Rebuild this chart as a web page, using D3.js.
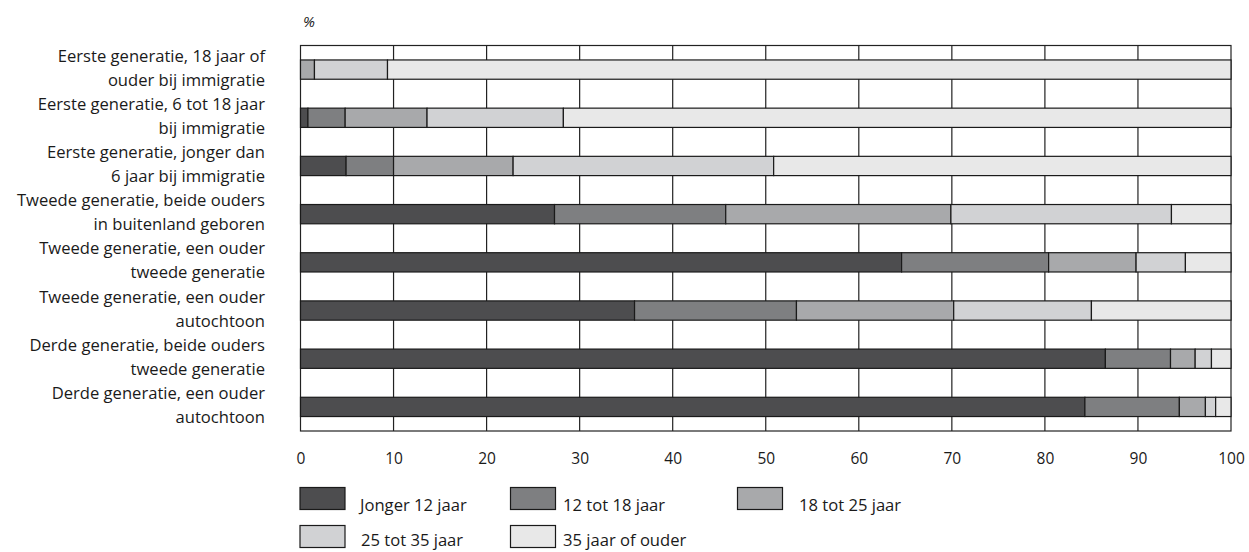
<!DOCTYPE html>
<html>
<head>
<meta charset="utf-8">
<script src="https://cdn.jsdelivr.net/npm/d3@7"></script>
<style>
  html, body { margin: 0; padding: 0; background: #fff; }
  svg { display: block; }
  text { font-family: "Open Sans", "Noto Sans", sans-serif; fill: #1a1a1a; }
</style>
</head>
<body>
<svg id="chart" width="1249" height="552"></svg>
<script>
// ---- data ----
const categories = [
  ["Eerste generatie, 18 jaar of", "ouder bij immigratie"],
  ["Eerste generatie, 6 tot 18 jaar", "bij immigratie"],
  ["Eerste generatie, jonger dan", "6 jaar bij immigratie"],
  ["Tweede generatie, beide ouders", "in buitenland geboren"],
  ["Tweede generatie, een ouder", "tweede generatie"],
  ["Tweede generatie, een ouder", "autochtoon"],
  ["Derde generatie, beide ouders", "tweede generatie"],
  ["Derde generatie, een ouder", "autochtoon"]
];
const seriesNames = ["Jonger 12 jaar", "12 tot 18 jaar", "18 tot 25 jaar", "25 tot 35 jaar", "35 jaar of ouder"];
const jonger12   = [0.0, 0.8, 4.9, 27.3, 64.6, 35.9, 86.5, 84.3];
const tot18      = [0.0, 4.0, 5.1, 18.4, 15.8, 17.4, 7.0, 10.15];
const tot25      = [1.5, 8.8, 12.85, 24.2, 9.4, 16.9, 2.65, 2.8];
const tot35      = [7.85, 14.65, 28.0, 23.7, 5.3, 14.8, 1.75, 1.1];
const ouder35    = [90.65, 71.75, 49.15, 6.4, 4.9, 15.0, 2.1, 1.65];
const xTicks = [0, 10, 20, 30, 40, 50, 60, 70, 80, 90, 100];
const colors = ["#4d4d4f", "#7e7f81", "#a8a9ab", "#d1d2d4", "#e8e8e8"];

// ---- layout ----
const svg = d3.select("#chart");
const pLeft = 300.5, pRight = 1231, pTop = 45.5, pBottom = 431;
const labelSize = 16.6, tickSize = 15.5;

const seriesValues = [jonger12, tot18, tot25, tot35, ouder35];
const rows = categories.map((c, i) => {
  const r = { idx: i };
  seriesNames.forEach((s, k) => r[s] = seriesValues[k][i]);
  return r;
});
const stacked = d3.stack().keys(seriesNames)(rows);

const x = d3.scaleLinear().domain([0, 100]).range([pLeft, pRight]);
const y = d3.scaleBand().domain(d3.range(categories.length)).range([pTop, pBottom])
  .paddingInner(0.6).paddingOuter(0.3);
const color = d3.scaleOrdinal().domain(seriesNames).range(colors);

// plot frame
svg.append("rect")
  .attr("x", pLeft).attr("y", pTop)
  .attr("width", pRight - pLeft).attr("height", pBottom - pTop)
  .attr("fill", "none").attr("stroke", "#222").attr("stroke-width", 1.2);

// vertical grid
svg.append("g").selectAll("line").data(xTicks.slice(1, -1)).join("line")
  .attr("x1", d => x(d)).attr("x2", d => x(d))
  .attr("y1", pTop).attr("y2", pBottom)
  .attr("stroke", "#222").attr("stroke-width", 1.2);

// bars
svg.append("g").selectAll("g").data(stacked).join("g")
  .attr("fill", d => color(d.key))
  .selectAll("rect").data(d => d.filter(p => p[1] - p[0] > 0)).join("rect")
  .attr("x", d => x(d[0]))
  .attr("y", d => y(d.data.idx))
  .attr("width", d => x(d[1]) - x(d[0]))
  .attr("height", y.bandwidth())
  .attr("stroke", "#1a1a1a").attr("stroke-width", 1.2);

// category labels
const lab = svg.append("g").selectAll("text").data(categories).join("text")
  .attr("text-anchor", "end")
  .attr("font-size", labelSize);
lab.each(function(d, i) {
  const c = y(i) + y.bandwidth() / 2;
  const t = d3.select(this);
  t.append("tspan").attr("x", 265).attr("y", c - 8).text(d[0]);
  t.append("tspan").attr("x", 265).attr("y", c + 16).text(d[1]);
});

// x axis tick labels
const xAxis = d3.axisBottom(x).tickValues(xTicks).tickSize(0).tickPadding(0);
const ax = svg.append("g").attr("transform", `translate(0,${pBottom})`).call(xAxis);
ax.select(".domain").remove();
ax.selectAll("text")
  .attr("dy", null).attr("y", 33)
  .attr("font-size", tickSize)
  .attr("font-family", "\"Open Sans\", \"Noto Sans\", sans-serif")
  .attr("fill", "#1a1a1a");

// % unit label
svg.append("text").attr("x", 309).attr("y", 27)
  .attr("text-anchor", "middle")
  .attr("font-size", 15).attr("font-style", "italic").text("%");

// legend
const legendPos = [
  { sx: 300, sy: 487.5, tx: 360, ty: 511 },
  { sx: 510.5, sy: 487.5, tx: 563, ty: 511 },
  { sx: 737.5, sy: 487.5, tx: 799, ty: 511 },
  { sx: 300, sy: 525.5, tx: 361, ty: 546 },
  { sx: 510.5, sy: 525.5, tx: 563, ty: 546 }
];
const lg = svg.append("g").selectAll("g").data(seriesNames).join("g");
lg.append("rect")
  .attr("x", (d, i) => legendPos[i].sx).attr("y", (d, i) => legendPos[i].sy)
  .attr("width", 45).attr("height", 22)
  .attr("fill", d => color(d)).attr("stroke", "#1a1a1a").attr("stroke-width", 1.2);
lg.append("text")
  .attr("x", (d, i) => legendPos[i].tx).attr("y", (d, i) => legendPos[i].ty)
  .attr("font-size", labelSize).text(d => d);
</script>
</body>
</html>
